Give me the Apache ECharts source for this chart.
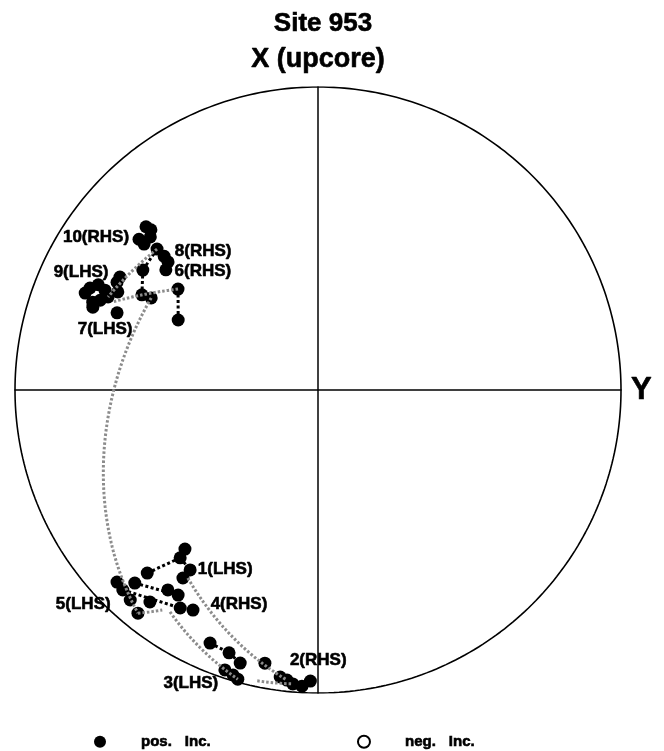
<!DOCTYPE html>
<html>
<head>
<meta charset="utf-8">
<script src="https://cdn.jsdelivr.net/npm/echarts@6/dist/echarts.min.js"></script>
<style>
  html, body { margin: 0; padding: 0; background: #ffffff; }
  #chart { width: 664px; height: 751px; }
</style>
</head>
<body>
<div id="chart"></div>
<script>
// Site 953 demagnetisation directions, lower hemisphere (all positive inclination).
// Declination (deg, clockwise from X upcore) and inclination (deg) per step.
const declination = [
  313.5, 313.8, 312.4, 310.1, 310.0, 311.2, 311.0, 310.5, 308.3, 304.4, 305.8, 296.6, 298.4, 298.9,
  294.1, 292.6, 295.6, 295.1, 298.2, 299.7, 296.1, 291.3, 292.4, 293.9, 290.2, 291.0,
  219.9, 219.4, 215.4, 215.7, 223.0, 226.3, 223.5, 224.3, 216.9, 214.3, 221.8, 218.4, 212.3, 209.6, 218.9,
  203.1, 198.7, 195.9, 198.4, 196.6, 195.5, 191.0, 187.5, 186.1, 184.9, 183.1, 181.5
];
const inclination = [
  22.8, 24.6, 26.0, 23.8, 26.0, 30.1, 33.2, 35.2, 36.2, 30.6, 42.5, 47.2, 34.3, 37.2,
  18.7, 17.9, 20.7, 23.4, 25.7, 25.7, 27.3, 21.3, 23.3, 25.2, 21.9, 29.7,
  32.1, 29.1, 28.0, 24.6, 18.5, 9.1, 13.2, 8.6, 18.6, 19.2, 7.8, 11.7, 16.0, 17.6, 6.0,
  10.1, 9.3, 7.0, 3.0, 2.1, 1.1, 9.0, 5.0, 4.2, 3.0, 2.4, 4.4
];

// Successive steps joined by short black dotted segments (indices into the arrays above)
const dottedLinks = [[5, 9], [9, 12], [10, 11], [30, 27], [27, 28], [32, 35], [33, 38], [41, 42], [42, 43]];

// Great-circle paths: [dec1, inc1, dec2, inc2]
const arcs = [
  [311.2, 30.1, 293.9, 25.2],
  [305.8, 42.5, 293.1, 27.0],
  [298.9, 37.2, 218.9, 6.0],
  [218.9, 6.0, 215.2, 12.2],
  [213.7, 13.0, 195.5, 1.1],
  [191.8, 2.2, 184.9, 3.0],
  [214.7, 25.5, 186.1, 4.2]
];

// Specimen labels and the step each one sits beside
const specimenNames = ['10(RHS)', '8(RHS)', '6(RHS)', '9(LHS)', '7(LHS)', '1(LHS)', '4(RHS)', '5(LHS)', '2(RHS)', '3(LHS)'];
const specimenAnchors = [3, 6, 8, 18, 25, 28, 39, 36, 48, 44];

// Label placement relative to the anchor step (px)
const labelOffsets = [[-43, -2], [39, -5], [37, 1], [-36, -10], [-12, 16], [35, -1], [46, -6], [-47, 4], [38, -17], [-34, 13]];

const FONT = '"Liberation Sans", Arial, sans-serif';
const RAD = Math.PI / 180;

// Equal-area (Schmidt) projection, unit radius: x -> Y axis (east), y -> X axis (upcore)
function project(dec, inc) {
  const r = Math.sqrt(1 - Math.sin(Math.abs(inc) * RAD));
  return [r * Math.sin(dec * RAD), r * Math.cos(dec * RAD)];
}
function toVec(dec, inc) {
  return [Math.cos(inc * RAD) * Math.cos(dec * RAD), Math.cos(inc * RAD) * Math.sin(dec * RAD), Math.sin(inc * RAD)];
}
function fromVec(v) {
  const n = Math.hypot(v[0], v[1], v[2]);
  return [Math.atan2(v[1], v[0]) / RAD, Math.asin(v[2] / n) / RAD];
}
function greatCircle(d1, i1, d2, i2, steps) {
  const a = toVec(d1, i1), b = toVec(d2, i2);
  const w = Math.acos(Math.min(1, a[0] * b[0] + a[1] * b[1] + a[2] * b[2]));
  const pts = [];
  for (let k = 0; k <= steps; k++) {
    const t = k / steps;
    const s1 = Math.sin((1 - t) * w) / Math.sin(w), s2 = Math.sin(t * w) / Math.sin(w);
    const v = [s1 * a[0] + s2 * b[0], s1 * a[1] + s2 * b[1], s1 * a[2] + s2 * b[2]];
    const di = fromVec(v);
    pts.push(project(di[0], di[1]));
  }
  return pts;
}

const stepPoints = declination.map((d, i) => project(d, inclination[i]));

const rim = [];
for (let k = 0; k <= 360; k++) rim.push([Math.sin(k * RAD), Math.cos(k * RAD)]);

const dottedData = [];
dottedLinks.forEach(([a, b]) => { dottedData.push(stepPoints[a], stepPoints[b], '-'); });

const arcData = [];
arcs.forEach(([d1, i1, d2, i2]) => { arcData.push(...greatCircle(d1, i1, d2, i2, 80), '-'); });

const labelData = specimenNames.map((name, k) => ({
  name: name,
  value: stepPoints[specimenAnchors[k]],
  label: { offset: labelOffsets[k] }
}));

// Heavy black text: bold face plus a hairline stroke in the same colour
const heavy = { fontFamily: FONT, fontWeight: 'bold', color: '#000', textBorderColor: '#000', textBorderWidth: 0.6 };

const chart = echarts.init(document.getElementById('chart'), null, { renderer: 'canvas' });
chart.setOption({
  animation: false,
  backgroundColor: '#ffffff',
  title: {
    text: 'Site 953',
    left: 318,
    textAlign: 'center',
    top: 6,
    textStyle: Object.assign({ fontSize: 26 }, heavy)
  },
  grid: { left: 15, top: 87, width: 606, height: 606, containLabel: false },
  xAxis: {
    type: 'value', min: -1, max: 1,
    name: 'Y', nameLocation: 'end', nameGap: 10,
    nameTextStyle: Object.assign({ fontSize: 31 }, heavy),
    axisLine: { show: true, onZero: true, lineStyle: { color: '#000', width: 1.5 } },
    axisTick: { show: false }, axisLabel: { show: false }, splitLine: { show: false }
  },
  yAxis: {
    type: 'value', min: -1, max: 1,
    name: 'X (upcore)', nameLocation: 'end', nameGap: 14,
    nameTextStyle: Object.assign({ fontSize: 27 }, heavy),
    axisLine: { show: true, onZero: true, lineStyle: { color: '#000', width: 1.5 } },
    axisTick: { show: false }, axisLabel: { show: false }, splitLine: { show: false }
  },
  legend: {
    data: [
      { name: 'pos. Inc.', icon: 'circle' },
      { name: 'neg. Inc.', icon: 'circle' }
    ],
    left: 89, top: 729,
    itemWidth: 12, itemHeight: 12, itemGap: 146,
    selectedMode: false,
    formatter: name => { const p = name.split(' '); return '{a|' + p[0] + '}{b|' + p[1] + '}'; },
    textStyle: Object.assign({
      fontSize: 15,
      rich: {
        a: Object.assign({ fontSize: 15, padding: [0, 0, 0, 30] }, heavy),
        b: Object.assign({ fontSize: 15, padding: [0, 0, 0, 13] }, heavy)
      }
    }, heavy)
  },
  series: [
    {
      name: 'rim', type: 'line', data: rim, showSymbol: false, silent: true, z: 1,
      lineStyle: { color: '#000', width: 1.6 }
    },
    {
      name: 'steps', type: 'line', data: dottedData, showSymbol: false, silent: true, z: 2,
      connectNulls: false,
      lineStyle: { color: '#000', width: 3, type: [3, 2.5] }
    },
    {
      name: 'pos. Inc.', type: 'scatter', data: stepPoints, symbol: 'circle', symbolSize: 13, z: 3,
      itemStyle: { color: '#000', opacity: 1 }
    },
    {
      name: 'neg. Inc.', type: 'scatter', data: [], symbol: 'circle', symbolSize: 10, z: 3,
      itemStyle: { color: '#fff', borderColor: '#000', borderWidth: 1.5, opacity: 1 }
    },
    {
      name: 'great circles', type: 'line', data: arcData, showSymbol: false, silent: true, z: 4,
      connectNulls: false,
      lineStyle: { color: '#8c8c8c', width: 3, type: [2.5, 2] }
    },
    {
      name: 'specimens', type: 'scatter', data: labelData, symbolSize: 0, silent: true, z: 5,
      itemStyle: { opacity: 1 },
      label: Object.assign({ show: true, position: 'inside', formatter: '{b}', fontSize: 17, opacity: 1 }, heavy)
    }
  ]
});
</script>
</body>
</html>
